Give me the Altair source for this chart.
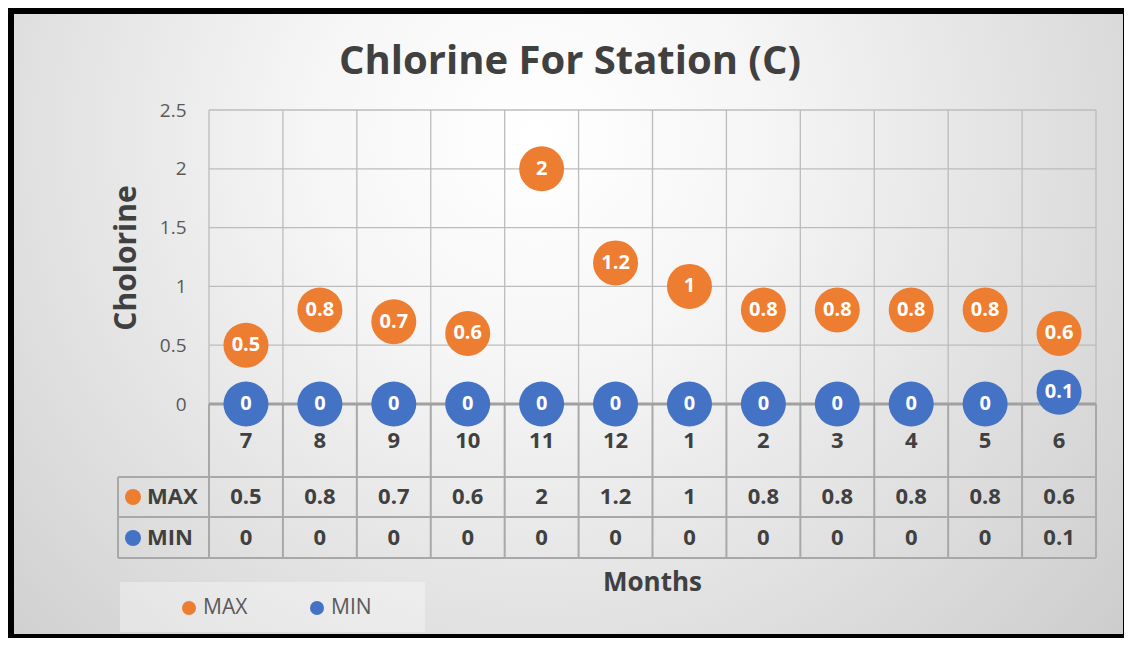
import altair as alt
import pandas as pd

# ---------------- data ----------------
months = ["7", "8", "9", "10", "11", "12", "1", "2", "3", "4", "5", "6"]
max_vals = [0.5, 0.8, 0.7, 0.6, 2, 1.2, 1, 0.8, 0.8, 0.8, 0.8, 0.6]
min_vals = [0, 0, 0, 0, 0, 0, 0, 0, 0, 0, 0, 0.1]
series = ["MAX", "MIN"]
colors = ["#ED7D31", "#4472C4"]
y_ticks = [0, 0.5, 1, 1.5, 2, 2.5]

# ---------------- layout / style ----------------
W, H = 887, 294
FONT = "Open Sans"
DARK = "#404040"
MID = "#595959"
GRID = "#bcbcbc"
TABLE = "#a8a8a8"

df = pd.DataFrame({
    "month": months * 2,
    "series": ["MAX"] * len(months) + ["MIN"] * len(months),
    "value": max_vals + min_vals,
})
df_months = pd.DataFrame({"month": months})
df_grid = pd.DataFrame({"v": y_ticks[1:]})
df_zero = pd.DataFrame({"v": [y_ticks[0]]})
one = pd.DataFrame({"d": [0]})

xscale = alt.Scale(type="band", domain=months, paddingInner=0, paddingOuter=0)
yscale = alt.Scale(domain=[0, 2.5], nice=False)


def X(**kw):
    return alt.X("month:N", scale=xscale, axis=None, **kw)


def box(x, x2, y, y2, **mark):
    return alt.Chart(one).mark_rect(**mark).encode(
        x=alt.value(x), x2=alt.value(x2), y=alt.value(y), y2=alt.value(y2))


def line(x, x2, y, y2, color, width):
    return alt.Chart(one).mark_rule(color=color, strokeWidth=width).encode(
        x=alt.value(x), x2=alt.value(x2), y=alt.value(y), y2=alt.value(y2))


def label(txt, x, y, size, bold=True, color=DARK, align="center", angle=0):
    return alt.Chart(one).mark_text(
        text=txt, font=FONT, fontSize=size, fontWeight="bold" if bold else "normal",
        color=color, align=align, baseline="middle", angle=angle,
    ).encode(x=alt.value(x), y=alt.value(y))


layers = []

# frame and background
layers.append(box(-201, 915, -102, 528, color="#000000"))
grad = alt.RadialGradient(
    gradient="radial",
    stops=[alt.GradientStop(color="#ffffff", offset=0),
           alt.GradientStop(color="#f6f6f6", offset=0.25),
           alt.GradientStop(color="#c4c4c4", offset=1)],
    x1=0.47, y1=0.33, x2=0.47, y2=0.33, r1=0, r2=0.8,
)
layers.append(box(-195, 914, -96, 524, fill=grad))
# legend box
layers.append(box(-89, 216, 472, 522, fill="#ffffff", opacity=0.35))

# horizontal gridlines + y axis labels
layers.append(
    alt.Chart(df_grid).mark_rule(color=GRID, strokeWidth=1.3).encode(
        y=alt.Y("v:Q", scale=yscale,
                axis=alt.Axis(values=y_ticks, format="~g", labelFont=FONT,
                              labelFontSize=19, labelColor=MID, labelPadding=23,
                              ticks=False, domain=False, grid=False, title=None,
                              zindex=1)),
        x=alt.value(0), x2=alt.value(W))
)

# vertical gridlines (plot part)
layers.append(
    alt.Chart(df_months).mark_rule(color=GRID, strokeWidth=1.3).encode(
        x=X(bandPosition=0), y=alt.value(0), y2=alt.value(H))
)
layers.append(line(W, W, 0, H, GRID, 1.3))
# vertical lines (table part)
layers.append(
    alt.Chart(df_months).mark_rule(color=TABLE, strokeWidth=2).encode(
        x=X(bandPosition=0), y=alt.value(H), y2=alt.value(448))
)
layers.append(line(W, W, H, 448, TABLE, 2))
# table horizontal lines and left border
for yy in (367, 407, 448):
    layers.append(line(-91, W, yy, yy, TABLE, 2))
layers.append(line(-91, -91, 367, 448, TABLE, 2))

# zero line
layers.append(
    alt.Chart(df_zero).mark_rule(color="#a0a0a0", strokeWidth=3).encode(
        y=alt.Y("v:Q", scale=yscale), x=alt.value(0), x2=alt.value(W))
)

# circles
layers.append(
    alt.Chart(df).mark_circle(size=2025, opacity=1).encode(
        x=X(), y=alt.Y("value:Q", scale=yscale),
        color=alt.Color("series:N", scale=alt.Scale(domain=series, range=colors),
                        legend=None))
)
layers.append(
    alt.Chart(df).mark_text(font=FONT, fontSize=20, fontWeight="bold",
                            color="#ffffff", baseline="middle").encode(
        x=X(), y=alt.Y("value:Q", scale=yscale),
        text=alt.Text("value:Q", format="~g"))
)

# month labels
layers.append(
    alt.Chart(df_months).mark_text(font=FONT, fontSize=22, fontWeight="bold",
                                   color=DARK, baseline="middle").encode(
        x=X(), y=alt.value(331), text="month:N")
)

# data table rows
for s, c, ty in zip(series, colors, (387, 428)):
    layers.append(
        alt.Chart(df).transform_filter(alt.datum.series == s).mark_text(
            font=FONT, fontSize=22, fontWeight="bold", color=DARK,
            baseline="middle").encode(
            x=X(), y=alt.value(ty), text=alt.Text("value:Q", format="~g"))
    )
    layers.append(
        alt.Chart(one).mark_circle(size=256, opacity=1, color=c).encode(
            x=alt.value(-76), y=alt.value(ty))
    )
    layers.append(label(s, -62, ty, 22, align="left"))

# legend
for s, c, lx in zip(series, colors, (-20, 108)):
    layers.append(
        alt.Chart(one).mark_circle(size=196, opacity=1, color=c).encode(
            x=alt.value(lx), y=alt.value(498))
    )
    layers.append(label(s, lx + 14, 498, 21, bold=False, color=MID, align="left"))

# titles
layers.append(label("Chlorine For Station (C)", 361, -48, 40))
layers.append(label("Cholorine", -82, 148, 30, angle=270))
layers.append(label("Months", W / 2, 473, 26))

chart = alt.layer(*layers).properties(
    width=W, height=H,
    autosize=alt.AutoSizeParams(type="none"),
    padding={"left": 201, "top": 102, "right": 28, "bottom": 234},
).configure_view(stroke=None)

chart.save("out.html", embed_options={"renderer": "svg", "actions": False})
